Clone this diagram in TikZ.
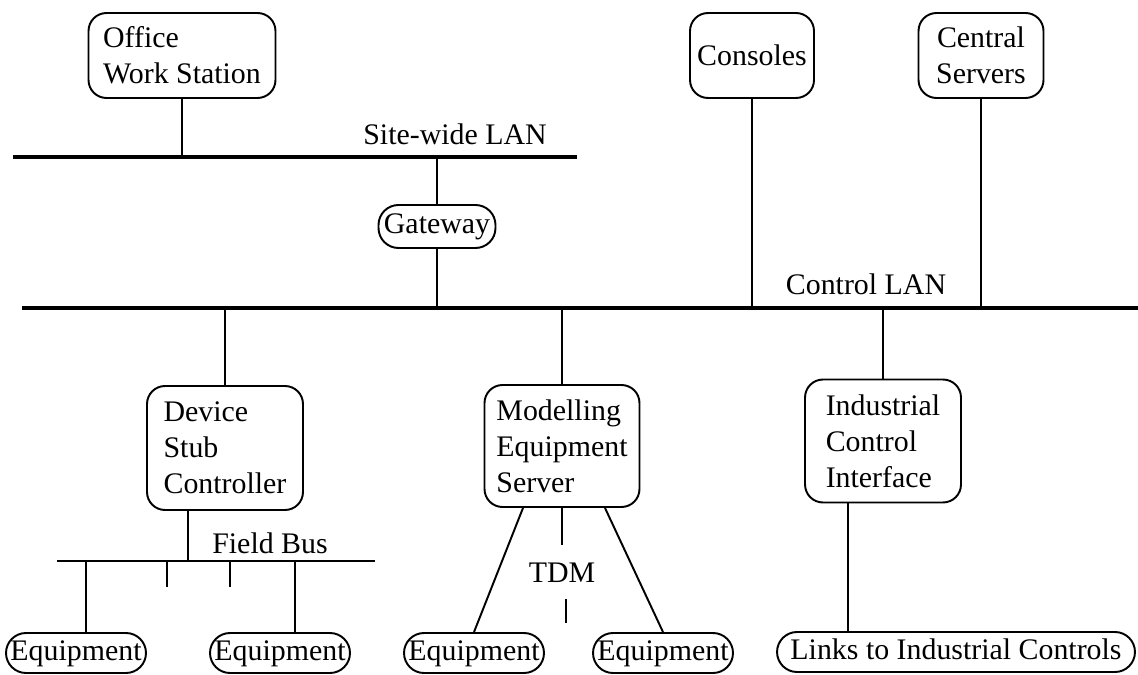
\documentclass[tikz,border=0pt]{standalone}
\usepackage{fontspec}
\setmainfont{Liberation Serif}
\begin{document}
\begin{tikzpicture}[x=0.02cm, y=-0.02cm,
  every node/.style={font=\fontsize{17}{20.5}\selectfont, inner sep=0pt},
  box/.style={draw, line width=1.1pt, rounded corners=0.36cm, align=left},
  pill/.style={draw, line width=1.1pt, rounded corners=0.4cm, minimum height=0.8cm, text height=0.4cm, text depth=0.12cm},
  lan/.style={line width=2.3pt},
  bus/.style={line width=1.3pt},
  wire/.style={line width=0.85pt}]
  \useasboundingbox (0,0) rectangle (1138,675);
  \node [box, minimum width=3.74cm, minimum height=1.7cm] (ows) at (182,55.5) {Office\\Work Station};
  \node [box, minimum width=2.48cm, minimum height=1.7cm] (con) at (752,55.5) {Consoles};
  \node [box, align=center, minimum width=2.5cm, minimum height=1.7cm] (csrv) at (981,55.5) {Central\\Servers};
  \node [pill, minimum width=2.34cm, minimum height=0.86cm] (gw) at (437,226.5) {Gateway};
  \node [box, minimum width=3.12cm, minimum height=2.48cm] (dsc) at (225,448) {Device\\Stub\\Controller};
  \node [box, minimum width=3.1cm, minimum height=2.44cm] (mes) at (562,446) {Modelling\\Equipment\\Server};
  \node [box, minimum width=3.12cm, minimum height=2.46cm] (ici) at (883,441) {Industrial\\Control\\Interface};
  \node [pill, minimum width=2.8cm] (eq1) at (76,653) {Equipment};
  \node [pill, minimum width=2.8cm] (eq2) at (280,653) {Equipment};
  \node [pill, minimum width=2.8cm] (eq3) at (474,653) {Equipment};
  \node [pill, minimum width=2.8cm] (eq4) at (663,653) {Equipment};
  \node [pill, minimum width=7.16cm] (links) at (956,652) {Links to Industrial Controls};
  \node [anchor=base] (sitelbl) at (455,145) {Site-wide LAN};
  \node [anchor=base] (ctrllbl) at (866,295) {Control LAN};
  \node [anchor=base] (fblbl) at (270,553) {Field Bus};
  \node [anchor=base, inner sep=0.34cm] (tdm) at (562,582) {TDM};
  \coordinate (siteW) at (13,157);
  \coordinate (siteE) at (577,157);
  \coordinate (ctrlW) at (22,308);
  \coordinate (ctrlE) at (1138,308);
  \coordinate (fbW) at (57,561);
  \coordinate (fbE) at (375,561);
  \coordinate (fbDsc) at (188,561);
  \coordinate (tap1) at (86,561);
  \coordinate (tap2) at (167,561);
  \coordinate (tap3) at (230,561);
  \coordinate (tap4) at (295,561);
  \coordinate (end2) at (167,587);
  \coordinate (end3) at (230,587);
  \coordinate (tdmEnd) at (566,623);
  \coordinate (iciTap) at (848,632);
  \draw [lan] (siteW) -- (siteE);
  \draw [lan] (ctrlW) -- (ctrlE);
  \draw [bus] (fbW) -- (fbE);
  \draw [wire] (ows.south) -- (ows.south |- siteW);
  \draw [wire] (gw.north) -- (gw.north |- siteW);
  \draw [wire] (gw.south) -- (gw.south |- ctrlW);
  \draw [wire] (con.south) -- (con.south |- ctrlW);
  \draw [wire] (csrv.south) -- (csrv.south |- ctrlW);
  \draw [wire] (dsc.north) -- (dsc.north |- ctrlW);
  \draw [wire] (mes.north) -- (mes.north |- ctrlW);
  \draw [wire] (ici.north) -- (ici.north |- ctrlW);
  \draw [wire] (dsc.south -| fbDsc) -- (fbDsc);
  \draw [wire] (tap1) -- (tap1 |- eq1.north);
  \draw [wire] (tap2) -- (end2);
  \draw [wire] (tap3) -- (end3);
  \draw [wire] (tap4) -- (tap4 |- eq2.north);
  \draw [wire, line width=1.1pt] ([xshift=-0.78cm]mes.south) -- (eq3.north);
  \draw [wire, line width=1.1pt] ([xshift=0.86cm]mes.south) -- (eq4.north);
  \draw [wire] (mes.south) -- (tdm.north);
  \draw [wire] (tdm.south -| tdmEnd) -- (tdmEnd);
  \draw [wire] (ici.south -| iciTap) -- (iciTap);
\end{tikzpicture}
\end{document}
